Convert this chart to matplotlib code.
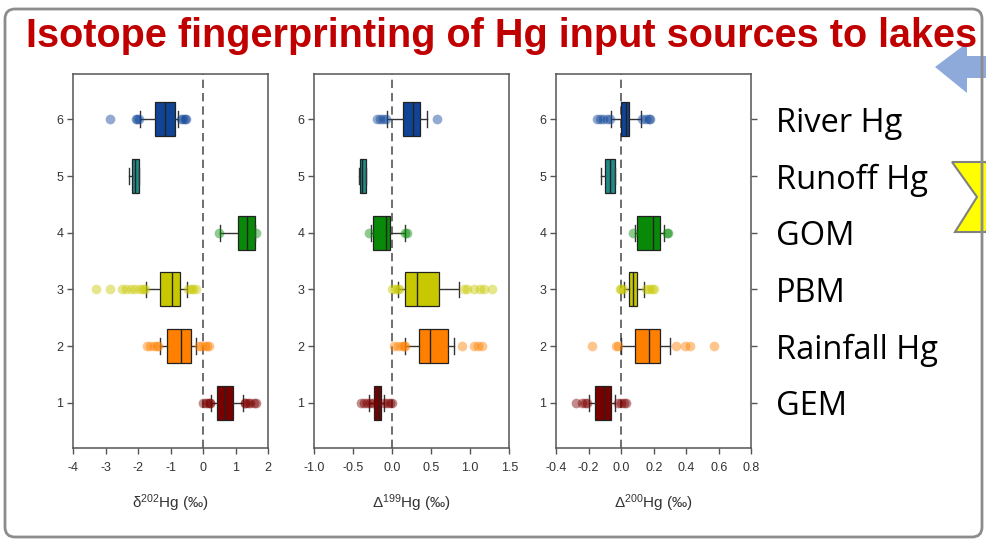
import matplotlib.pyplot as plt
from matplotlib.patches import FancyBboxPatch, Polygon

plt.rcParams['font.family'] = ['Liberation Sans', 'DejaVu Sans']
plt.rcParams['mathtext.default'] = 'regular'
plt.rcParams['axes.unicode_minus'] = False

# rows 1..6 from bottom to top
sources = ['GEM', 'Rainfall Hg', 'PBM', 'GOM', 'Runoff Hg', 'River Hg']
colors = ['#7a0000', '#ff8000', '#c8c800', '#088a08', '#1f8a86', '#0f4496']

# delta202Hg
d202_q1 = [0.43, -1.12, -1.34, 1.08, -2.18, -1.49]
d202_med = [0.67, -0.67, -0.96, 1.35, -2.08, -1.16]
d202_q3 = [0.91, -0.36, -0.72, 1.59, -1.97, -0.85]
d202_lo = [0.25, -1.32, -1.75, 0.52, -2.28, -1.93]
d202_hi = [1.23, -0.21, -0.51, 1.59, -1.97, -0.76]
d202_fliers = [
    [0.0, 0.08, 0.15, 0.2, 0.22, 1.3, 1.3, 1.38, 1.45, 1.55, 1.62],
    [-1.72, -1.62, -1.52, -1.42, -1.38, -0.12, -0.05, 0.05, 0.12, 0.18],
    [-3.3, -2.85, -2.5, -2.38, -2.22, -2.08, -1.95, -1.85, -1.8, -0.45, -0.38, -0.3, -0.22],
    [0.5, 1.62],
    [],
    [-2.87, -2.05, -2.02, -1.98, -0.68, -0.62, -0.57, -0.52],
]

# Delta199Hg
d199_q1 = [-0.236, 0.34, 0.16, -0.24, -0.41, 0.14]
d199_med = [-0.18, 0.48, 0.32, -0.076, -0.38, 0.27]
d199_q3 = [-0.14, 0.72, 0.60, -0.03, -0.34, 0.36]
d199_lo = [-0.30, 0.17, 0.07, -0.27, -0.42, -0.06]
d199_hi = [-0.10, 0.79, 0.86, 0.17, -0.33, 0.45]
d199_fliers = [
    [-0.40, -0.36, -0.32, -0.28, -0.25, -0.2, -0.1, -0.06, -0.03, 0.0],
    [0.02, 0.07, 0.12, 0.15, 0.17, 0.9, 1.05, 1.1, 1.15],
    [0.0, 0.04, 0.07, 0.09, 0.92, 0.96, 1.05, 1.12, 1.18, 1.28],
    [-0.30, 0.16, 0.19],
    [],
    [-0.2, -0.16, -0.12, -0.08, 0.58],
]

# Delta200Hg
d200_q1 = [-0.16, 0.086, 0.047, 0.10, -0.101, 0.0]
d200_med = [-0.105, 0.17, 0.074, 0.195, -0.066, 0.027]
d200_q3 = [-0.064, 0.24, 0.097, 0.24, -0.035, 0.047]
d200_lo = [-0.20, 0.0, 0.015, 0.085, -0.124, -0.06]
d200_hi = [-0.037, 0.30, 0.14, 0.265, -0.035, 0.12]
d200_fliers = [
    [-0.28, -0.24, -0.22, -0.21, -0.02, 0.0, 0.02, 0.03],
    [-0.18, -0.03, -0.02, 0.34, 0.39, 0.42, 0.57],
    [-0.01, 0.0, 0.01, 0.15, 0.17, 0.19, 0.2],
    [0.07, 0.28, 0.29],
    [],
    [-0.15, -0.13, -0.11, -0.09, -0.07, 0.13, 0.15, 0.17, 0.18],
]

panels = [
    (d202_q1, d202_med, d202_q3, d202_lo, d202_hi, d202_fliers,
     [-4, -3, -2, -1, 0, 1, 2], ['-4', '-3', '-2', '-1', '0', '1', '2'],
     'δ$^{202}$Hg (‰)'),
    (d199_q1, d199_med, d199_q3, d199_lo, d199_hi, d199_fliers,
     [-1.0, -0.5, 0.0, 0.5, 1.0, 1.5], ['-1.0', '-0.5', '0.0', '0.5', '1.0', '1.5'],
     'Δ$^{199}$Hg (‰)'),
    (d200_q1, d200_med, d200_q3, d200_lo, d200_hi, d200_fliers,
     [-0.4, -0.2, 0.0, 0.2, 0.4, 0.6, 0.8],
     ['-0.4', '-0.2', '0.0', '0.2', '0.4', '0.6', '0.8'],
     'Δ$^{200}$Hg (‰)'),
]

fig = plt.figure(figsize=(9.86, 5.4), dpi=100)

# slide decoration in pixel coordinates
bg = fig.add_axes([0, 0, 1, 1])
bg.set_xlim(0, 986)
bg.set_ylim(540, 0)
bg.axis('off')
bg.add_patch(Polygon([(935, 67), (967, 43), (967, 56), (990, 56), (990, 78),
                      (967, 78), (967, 93)], closed=True, fc='#8eaadb', ec='none',
                     zorder=1, clip_on=False))
bg.add_patch(Polygon([(952, 162), (986, 162), (1005, 197), (986, 232),
                      (955, 232), (977, 197)], closed=True, fc='#ffff00',
                     ec='#808080', lw=1.5, zorder=1, clip_on=False))
bg.add_patch(FancyBboxPatch((12, 16), 963, 514, boxstyle='round,pad=7,rounding_size=10',
                            fc='none', ec='#8c8c8c', lw=2, zorder=2, clip_on=False))

fig.text(0.5086, 1 - 47 / 540, 'Isotope fingerprinting of Hg input sources to lakes',
         ha='center', va='baseline', fontsize=28.5, fontweight='bold', color='#c00000')

lefts = [0.074, 0.3185, 0.564]
rows = list(range(1, 7))

for i, (q1, med, q3, lo, hi, fl, xt, xtl, xlabel) in enumerate(panels):
    ax = fig.add_axes([lefts[i], 0.170, 0.198, 0.693])
    stats = [dict(q1=q1[k], med=med[k], q3=q3[k], whislo=lo[k], whishi=hi[k],
                  fliers=fl[k]) for k in range(6)]
    ax.axvline(0, color='#555555', lw=1.2, ls=(0, (5, 3)), zorder=1)
    bp = ax.bxp(stats, positions=rows, widths=0.6, orientation='horizontal',
                patch_artist=True, capwidths=0.28,
                boxprops=dict(edgecolor='#222222', linewidth=0.9),
                medianprops=dict(color='#222222', linewidth=1.0),
                whiskerprops=dict(color='#333333', linewidth=1.0),
                capprops=dict(color='#333333', linewidth=1.0),
                flierprops=dict(marker='o', markersize=7, markeredgecolor='none',
                                alpha=0.45))
    for k in range(6):
        bp['boxes'][k].set_facecolor(colors[k])
        bp['fliers'][k].set_markerfacecolor(colors[k])
    ax.set_ylim(0.2, 6.8)
    ax.set_xlim(xt[0], xt[-1])
    ax.set_yticks(rows)
    ax.set_yticklabels([str(r) for r in rows])
    ax.set_xticks(xt)
    ax.set_xticklabels(xtl)
    ax.tick_params(direction='out', length=4, width=1, color='#555555',
                   labelsize=9, labelcolor='#333333')
    ax.tick_params(axis='x', pad=6)
    ax.tick_params(axis='y', pad=3)
    if i == 2:
        ax.tick_params(axis='y', right=True)
    for s in ax.spines.values():
        s.set_color('#555555')
        s.set_linewidth(1.1)
    ax.set_xlabel(xlabel, fontsize=11, color='#333333', labelpad=13)

    if i == 2:
        for k in range(6):
            ax.text(1.124, rows[k], sources[k], transform=ax.get_yaxis_transform(),
                    ha='left', va='center_baseline', fontsize=23.5, color='black',
                    family=['Open Sans', 'DejaVu Sans'])

fig.savefig('out.png', dpi=100)
